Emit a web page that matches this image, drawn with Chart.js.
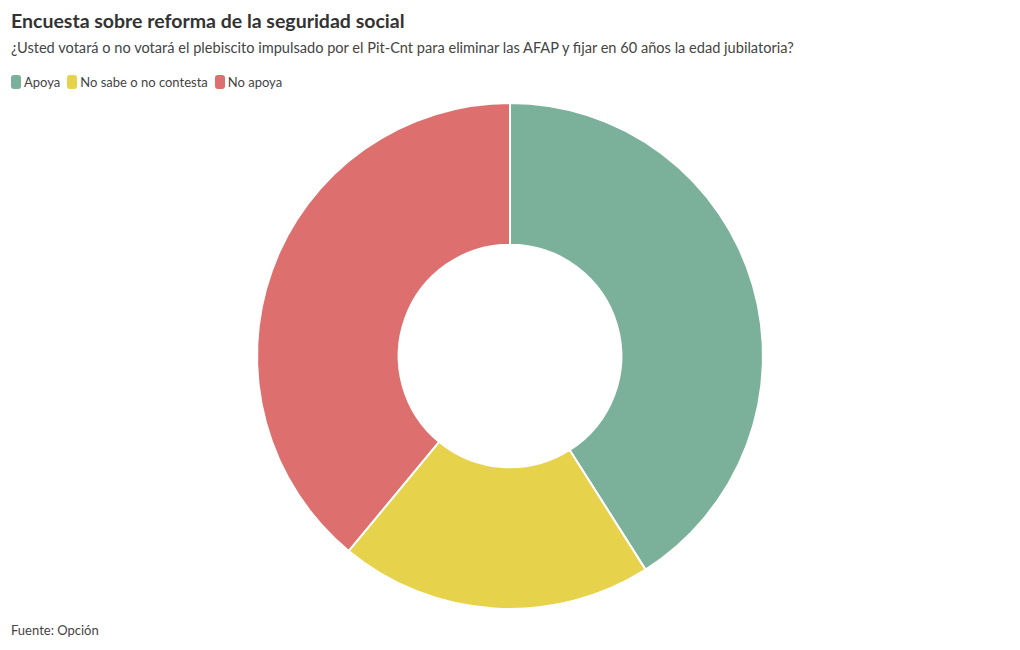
<!DOCTYPE html>
<html lang="es">
<head>
<meta charset="utf-8">
<title>Encuesta sobre reforma de la seguridad social</title>
<script src="https://cdn.jsdelivr.net/npm/chart.js@4.4.1/dist/chart.umd.min.js"></script>
<style>
  body { margin: 0; background: #fff; font-family: Lato, "Noto Sans", sans-serif; color: #333; }
  #wrap { position: relative; width: 1020px; height: 650px; }
  h1 { position: absolute; left: 11px; top: 9px; margin: 0; font-size: 19.5px; font-weight: bold; color: #333; }
  .sub { position: absolute; left: 11px; top: 39px; font-size: 14.6px; color: #444; }
  #legend { position: absolute; left: 11px; top: 74px; font-size: 13px; color: #444; display: flex; }
  #legend span.item { display: flex; align-items: center; margin-right: 7px; }
  #legend span.box { width: 10px; height: 14px; border-radius: 3px; margin-right: 3px; }
  .src { position: absolute; left: 11px; top: 622px; font-size: 13px; color: #444; }
  #chartBox { position: absolute; left: 0; top: 102px; width: 1020px; height: 508px; }
</style>
</head>
<body>
<div id="wrap">
  <h1>Encuesta sobre reforma de la seguridad social</h1>
  <div class="sub">¿Usted votará o no votará el plebiscito impulsado por el Pit-Cnt para eliminar las AFAP y fijar en 60 años la edad jubilatoria?</div>
  <div id="legend"></div>
  <div id="chartBox"><canvas id="chart"></canvas></div>
  <div class="src">Fuente: Opción</div>
</div>
<script>
const labels = ['Apoya', 'No sabe o no contesta', 'No apoya'];
const values = [41, 20, 39];
const colors = ['#7bb19a', '#e7d24b', '#dd706f'];

const legend = document.getElementById('legend');
labels.forEach(function(label, i) {
    const item = document.createElement('span');
    item.className = 'item';
    item.innerHTML = '<span class="box" style="background:' + colors[i] + '"></span>' + label;
    legend.appendChild(item);
});

const ctx = document.getElementById('chart').getContext('2d');
new Chart(ctx, {
    type: 'doughnut',
    data: {
        labels: labels,
        datasets: [{
            data: values,
            backgroundColor: colors,
            borderColor: '#ffffff',
            borderWidth: 2
        }]
    },
    options: {
        responsive: true,
        maintainAspectRatio: false,
        animation: false,
        cutout: '44%',
        plugins: {
            legend: { display: false },
            tooltip: { enabled: false }
        }
    }
});
</script>
</body>
</html>
